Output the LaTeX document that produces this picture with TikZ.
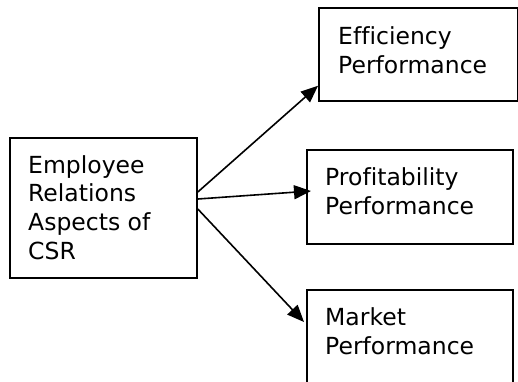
\documentclass[tikz,border=0pt]{standalone}
\usepackage{fontspec}
\setmainfont{DejaVu Sans}[Ligatures=NoCommon]
\usetikzlibrary{arrows.meta, positioning}

\tikzset{
  box/.style={draw, line width=1.8pt, inner sep=0pt, anchor=north west},
  boxtext/.style={inner sep=0pt, align=left, font=\fontsize{23.5}{28.7}\selectfont},
  link/.style={line width=1.6pt, -{Triangle[length=17pt,width=14pt]}}
}

\begin{document}
\begin{tikzpicture}[x=1pt, y=-1pt]
\useasboundingbox (0,0) rectangle (518,381);

% boxes
\node[box, minimum width=187pt, minimum height=140pt] (emp) at (9,137) {};
\node[box, minimum width=199pt, minimum height=93pt] (eff) at (318,7) {};
\node[box, minimum width=206pt, minimum height=94pt] (prof) at (306,149) {};
\node[box, minimum width=206pt, minimum height=110pt] (mkt) at (306,289) {};

% texts, top left in each box
\node[boxtext, below right=18pt and 19pt of emp.north west] (emp text) {Employee\\Relations\\Aspects of\\CSR};
\node[boxtext, below right=19.5pt and 20pt of eff.north west] (eff text) {Efficiency\\Performance};
\node[boxtext, below right=18.5pt and 19pt of prof.north west] (prof text) {Profitability\\Performance};
\node[boxtext, below right=18.5pt and 19pt of mkt.north west] (mkt text) {Market\\Performance};

% links
\draw[link] ([yshift=-55pt]emp.north east) -- ([yshift=16pt]eff.south west);
\draw[link] ([yshift=-62pt]emp.north east) -- ([xshift=5pt, yshift=-42pt]prof.north west);
\draw[link] ([yshift=-72pt]emp.north east) -- ([xshift=-2pt, yshift=-33pt]mkt.north west);
\end{tikzpicture}
\end{document}
